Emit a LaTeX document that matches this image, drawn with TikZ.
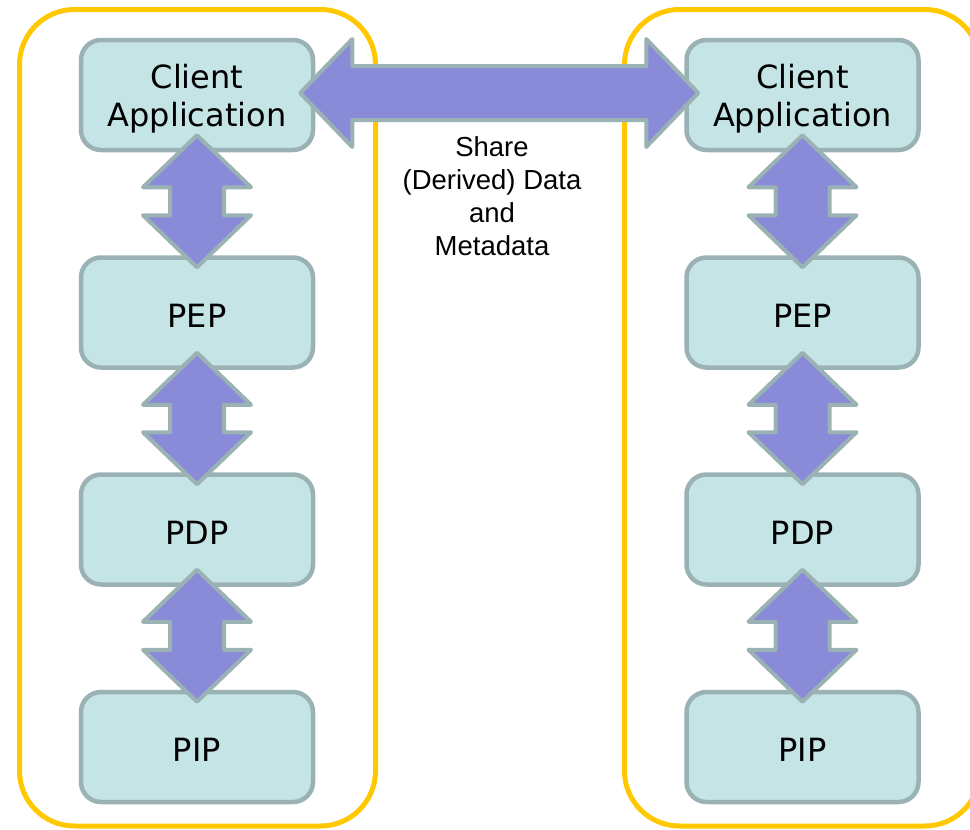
\documentclass[tikz,border=0pt]{standalone}
\usepackage{fontspec}
\setmainfont{DejaVu Sans}
\newfontfamily\labelfont{Liberation Sans}
\usetikzlibrary{calc}

\definecolor{groupline}{RGB}{255,200,0}
\definecolor{boxfill}{RGB}{196,228,230}
\definecolor{boxline}{RGB}{155,178,181}
\definecolor{arrowfill}{RGB}{137,139,217}

\tikzset{
  group/.style={draw=groupline, line width=5pt, rounded corners=55pt},
  comp/.style={draw=boxline, fill=boxfill, line width=4.5pt, rounded corners=20pt,
    minimum width=232pt, minimum height=110pt, align=center, inner sep=0pt,
    font=\fontsize{32}{38}\selectfont},
  blockarrow/.style={draw=boxline, fill=arrowfill, line width=4pt, line join=round},
  sharelabel/.style={align=center, font=\labelfont\fontsize{27.5}{33}\selectfont}
}

% captions sit slightly below the box centre (ink lowered, box size kept)
\newcommand\twolines[2]{\raisebox{-5pt}[\height][\depth]{\begin{tabular}{@{}c@{}}#1\\#2\end{tabular}}}
\newcommand\oneline[1]{\raisebox{-3pt}[\height][\depth]{#1}}

% two-headed block arrow between a box above and a box below
\newcommand\vlink[2]{%
  \draw[blockarrow]
    ($(#1.south)+(0,-17)$) -- ++(54,52) -- ++(-27,0)
    -- ($(#2.north)+(27,-40)$) -- ++(27,0)
    -- ($(#2.north)+(0,12)$)
    -- ($(#2.north)+(-54,-40)$) -- ++(27,0)
    -- ($(#1.south)+(-27,35)$) -- ++(-27,0) -- cycle;}

\begin{document}
\begin{tikzpicture}[x=1pt, y=-1pt]
  \useasboundingbox (0,0) rectangle (970,830);
  \clip (0,0) rectangle (970,830);

  % the two domains
  \draw[group] (19.5,9.5) rectangle (375.5,826);
  \draw[group] (624.5,9.5) rectangle (980,826);

  % left stack
  \node[comp] (lca)  at (197,95)    {\twolines{Client}{Application}};
  \node[comp] (lpep) at (197,312.5) {\oneline{PEP}};
  \node[comp] (lpdp) at (197,529.5) {\oneline{PDP}};
  \node[comp] (lpip) at (197,747)   {\oneline{PIP}};

  % right stack
  \node[comp] (rca)  at (802.5,95)    {\twolines{Client}{Application}};
  \node[comp] (rpep) at (802.5,312.5) {\oneline{PEP}};
  \node[comp] (rpdp) at (802.5,529.5) {\oneline{PDP}};
  \node[comp] (rpip) at (802.5,747)   {\oneline{PIP}};

  % links inside each stack
  \vlink{lca}{lpep}
  \vlink{lpep}{lpdp}
  \vlink{lpdp}{lpip}
  \vlink{rca}{rpep}
  \vlink{rpep}{rpdp}
  \vlink{rpdp}{rpip}

  % sharing link between the two client applications
  \draw[blockarrow]
    ($(lca.east)+(-15,-2)$) -- ++(52,-54) -- ++(0,27)
    -- ($(rca.west)+(-38,-29)$) -- ++(0,-27)
    -- ($(rca.west)+(14,-2)$)
    -- ($(rca.west)+(-38,52)$) -- ++(0,-27)
    -- ($(lca.east)+(37,25)$) -- ++(0,27) -- cycle;

  \node[sharelabel] (share) at (492,196) {Share\\(Derived) Data\\and\\Metadata};
\end{tikzpicture}
\end{document}
